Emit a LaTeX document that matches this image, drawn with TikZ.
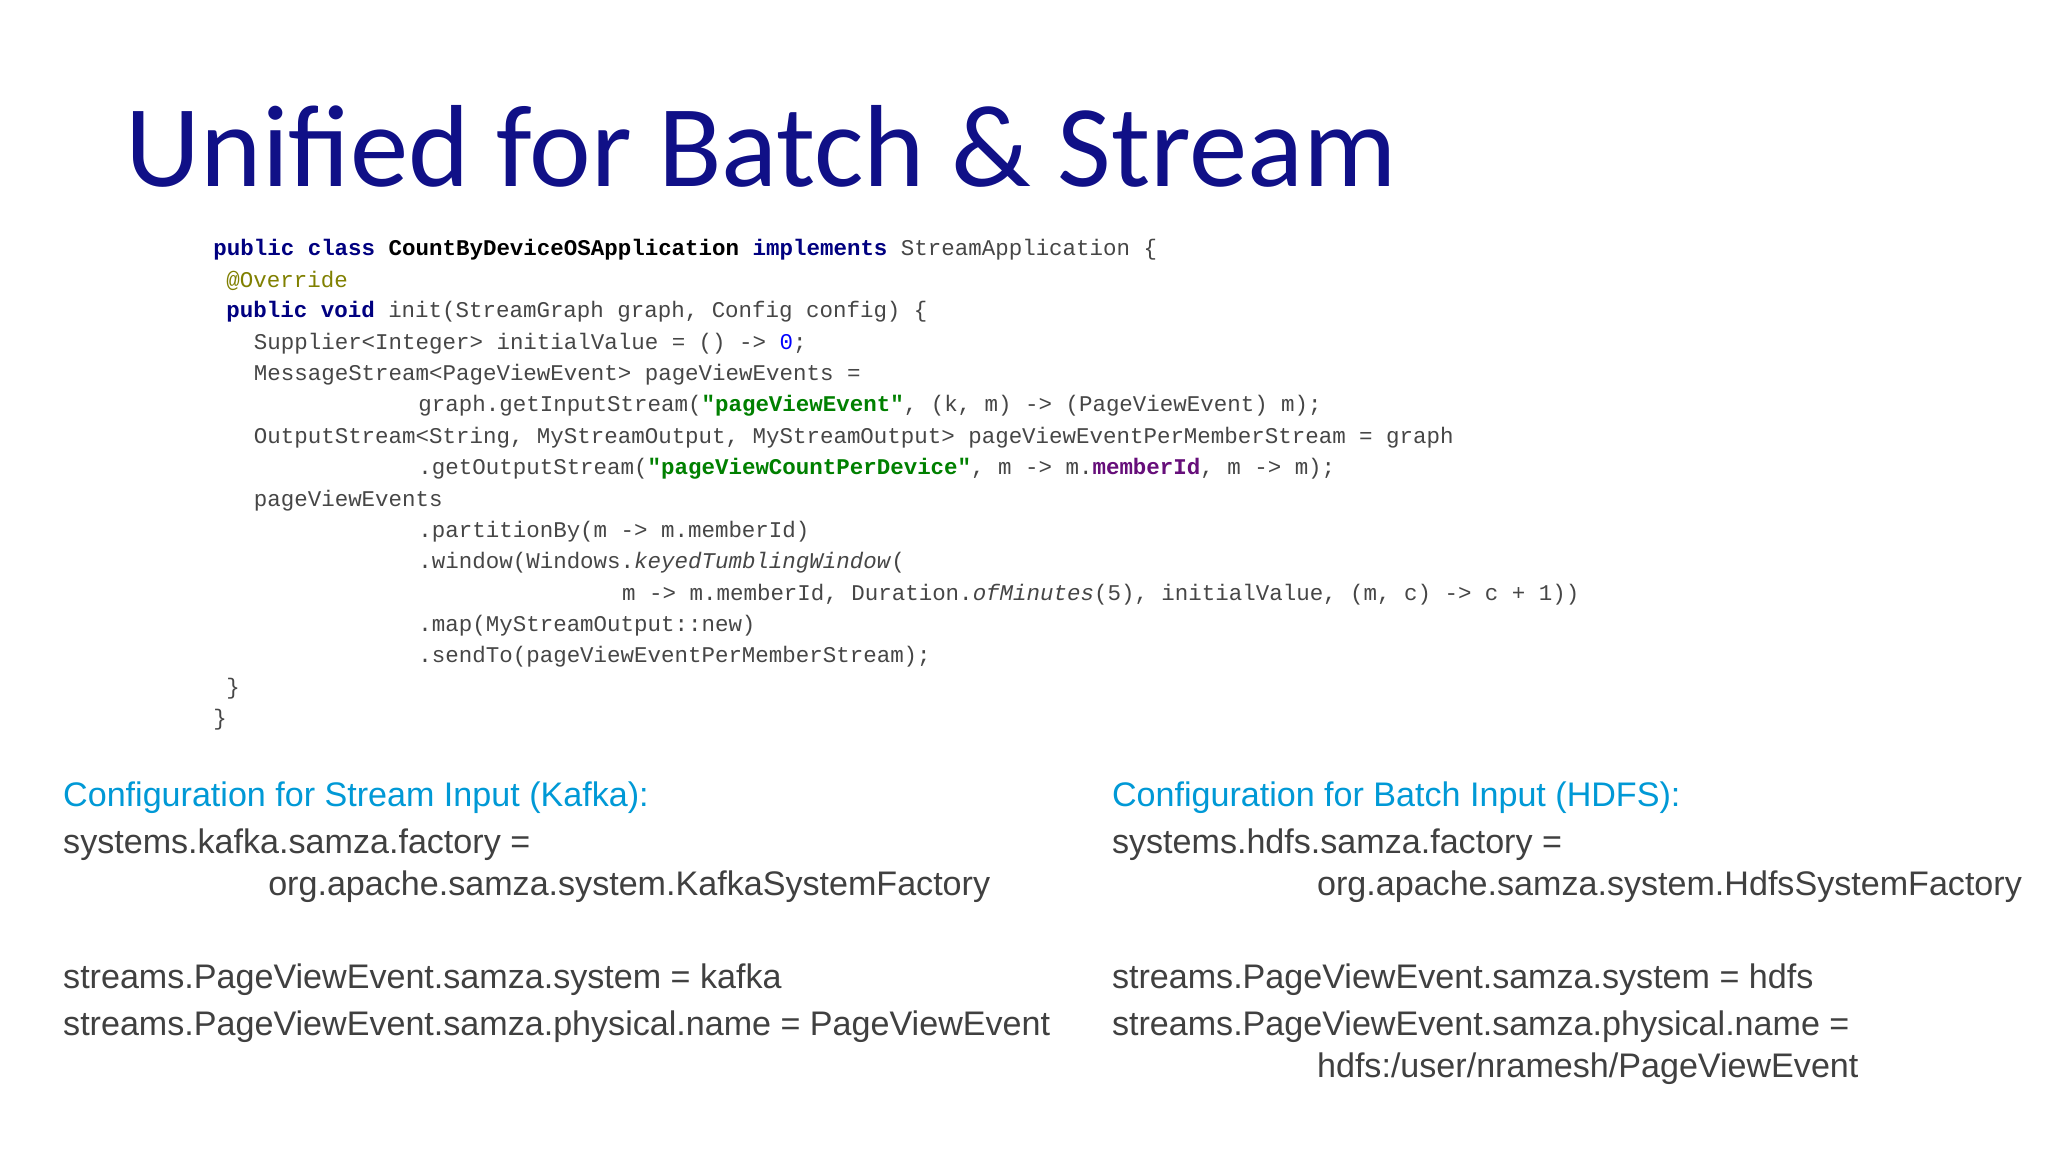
\documentclass[tikz,border=0pt]{standalone}
\usepackage{fontspec}
\setmainfont{Liberation Sans}
\newfontfamily\titlefont{Carlito}
\newfontfamily\codefont{Liberation Mono}
\definecolor{navy}{RGB}{16,16,135}
\definecolor{kw}{RGB}{0,0,128}
\definecolor{strg}{RGB}{0,128,0}
\definecolor{purp}{RGB}{102,14,122}
\definecolor{olive}{RGB}{128,128,0}
\definecolor{numb}{RGB}{0,0,255}
\definecolor{codegray}{RGB}{70,70,70}
\definecolor{head}{RGB}{0,153,214}
\definecolor{cfg}{RGB}{64,64,64}
\newcommand{\K}[1]{\textbf{\color{kw}#1}}
\newcommand{\St}[1]{\textbf{\color{strg}#1}}
\begin{document}
\begin{tikzpicture}[x=0.5pt,y=-0.5pt,
  code/.style={anchor=west,inner sep=0,font=\codefont\fontsize{8.6}{10}\selectfont,text=codegray},
  cfgtxt/.style={anchor=west,inner sep=0,font=\fontsize{13.05}{16}\selectfont,text=cfg},
  cfghead/.style={anchor=west,inner sep=0,font=\fontsize{13.05}{16}\selectfont,text=head}]
\useasboundingbox[fill=white] (0,0) rectangle (1568,882);
\node[anchor=west,inner sep=0,font=\titlefont\fontsize{44.7}{54}\selectfont,text=navy] (title) at (96,112) {Unified for Batch \& Stream};
\node[code] (c1) at (163,191) {\K{public class} \textbf{\color{black}CountByDeviceOSApplication} \K{implements} StreamApplication \{};
\node[code] (c2) at (173,215) {\color{olive}@Override};
\node[code] (c3) at (173,239) {\K{public void} init(StreamGraph graph, Config config) \{};
\node[code] (c4) at (194,263) {Supplier<Integer> initialValue = () -> {\color{numb}0};};
\node[code] (c5) at (194,287) {MessageStream<PageViewEvent> pageViewEvents =};
\node[code] (c6) at (320,311) {graph.getInputStream(\St{"pageViewEvent"}, (k, m) -> (PageViewEvent) m);};
\node[code] (c7) at (194,335) {OutputStream<String, MyStreamOutput, MyStreamOutput> pageViewEventPerMemberStream = graph};
\node[code] (c8) at (320,359) {.getOutputStream(\St{"pageViewCountPerDevice"}, m -> m.\textbf{\color{purp}memberId}, m -> m);};
\node[code] (c9) at (194,383) {pageViewEvents};
\node[code] (c10) at (320,407) {.partitionBy(m -> m.memberId)};
\node[code] (c11) at (320,431) {.window(Windows.\textit{keyedTumblingWindow}(};
\node[code] (c12) at (476,455) {m -> m.memberId, Duration.\textit{ofMinutes}(5), initialValue, (m, c) -> c + 1))};
\node[code] (c13) at (320,479) {.map(MyStreamOutput::new)};
\node[code] (c14) at (320,503) {.sendTo(pageViewEventPerMemberStream);};
\node[code] (c15) at (173,527) {\}};
\node[code] (c16) at (163,551) {\}};
\node[cfghead] (h1) at (48,611) {Configuration for Stream Input (Kafka):};
\node[cfgtxt] (k1) at (48,647) {systems.kafka.samza.factory =};
\node[cfgtxt] (k2) at (205,679) {org.apache.samza.system.KafkaSystemFactory};
\node[cfgtxt] (k3) at (48,750) {streams.PageViewEvent.samza.system = kafka};
\node[cfgtxt] (k4) at (48,786) {streams.PageViewEvent.samza.physical.name = PageViewEvent};
\node[cfghead] (h2) at (851,611) {Configuration for Batch Input (HDFS):};
\node[cfgtxt] (b1) at (851,647) {systems.hdfs.samza.factory =};
\node[cfgtxt] (b2) at (1008,679) {org.apache.samza.system.HdfsSystemFactory};
\node[cfgtxt] (b3) at (851,750) {streams.PageViewEvent.samza.system = hdfs};
\node[cfgtxt] (b4) at (851,786) {streams.PageViewEvent.samza.physical.name =};
\node[cfgtxt] (b5) at (1008,818) {hdfs:/user/nramesh/PageViewEvent};
\end{tikzpicture}
\end{document}
